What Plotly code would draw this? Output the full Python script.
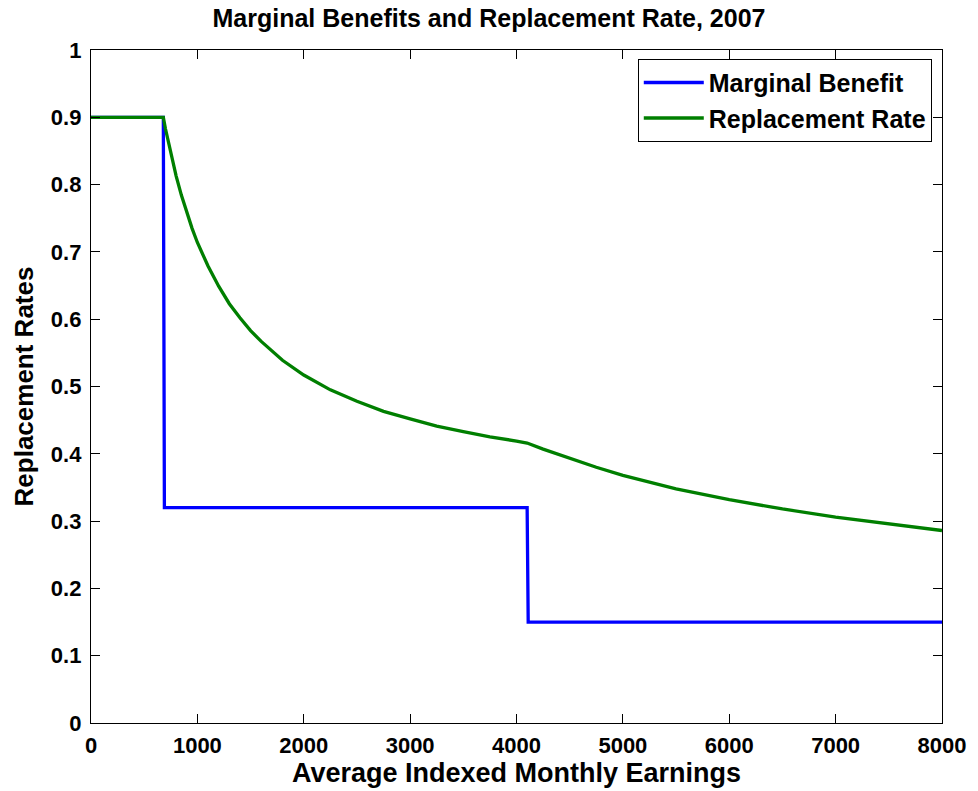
import plotly.graph_objects as go

# Marginal benefit (step function, bend points 680 and 4100)
mb_x = [0, 680, 690, 4100, 4110, 8000]
mb_y = [0.9, 0.9, 0.32, 0.32, 0.15, 0.15]

# Replacement rate
rr_x = [0, 680, 700, 750, 800, 850, 900, 950, 1000, 1100, 1200, 1300, 1400, 1500,
        1600, 1800, 2000, 2250, 2500, 2750, 3000, 3250, 3500, 3750, 4000, 4100,
        4250, 4500, 4750, 5000, 5500, 6000, 6500, 7000, 7500, 8000]
rr_y = [0.9, 0.9, 0.883, 0.846, 0.813, 0.784, 0.758, 0.735, 0.714, 0.679, 0.649,
        0.623, 0.602, 0.583, 0.567, 0.539, 0.517, 0.495, 0.478, 0.463, 0.452,
        0.441, 0.433, 0.425, 0.419, 0.416, 0.407, 0.393, 0.380, 0.368, 0.348,
        0.332, 0.318, 0.306, 0.296, 0.286]

x_ticks = [0, 1000, 2000, 3000, 4000, 5000, 6000, 7000, 8000]
y_ticks = [0, 0.1, 0.2, 0.3, 0.4, 0.5, 0.6, 0.7, 0.8, 0.9, 1]
y_labels = ["0", "0.1", "0.2", "0.3", "0.4", "0.5", "0.6", "0.7", "0.8", "0.9", "1"]

FONT = "Liberation Sans, Arial, sans-serif"

fig = go.Figure()
fig.add_trace(go.Scatter(x=mb_x, y=mb_y, mode="lines", name="Marginal Benefit",
                         line=dict(color="#0000ff", width=3.3)))
fig.add_trace(go.Scatter(x=rr_x, y=rr_y, mode="lines", name="Replacement Rate",
                         line=dict(color="#007f00", width=3.3)))

axis_common = dict(showgrid=False, zeroline=False, showline=True, linecolor="black",
                   linewidth=1.3, mirror="ticks", ticks="inside", ticklen=9,
                   tickcolor="black", tickwidth=1,
                   tickfont=dict(family=FONT, size=22, color="black", weight="bold"))

fig.update_layout(
    width=978, height=791,
    margin=dict(l=91, r=32, t=50, b=66),
    paper_bgcolor="white", plot_bgcolor="white",
    title=dict(text="<b>Marginal Benefits and Replacement Rate, 2007</b>",
               x=0.5, xanchor="center", yref="container", y=0.977, yanchor="middle",
               font=dict(family=FONT, size=25, color="black")),
    xaxis=dict(range=[0, 8000], tickvals=x_ticks, ticktext=[str(v) for v in x_ticks],
               ticklabelstandoff=2,
               title=dict(text="<b>Average Indexed Monthly Earnings</b>",
                          font=dict(family=FONT, size=27, color="black"), standoff=3),
               **axis_common),
    yaxis=dict(range=[0, 1], tickvals=y_ticks, ticktext=y_labels,
               ticklabelstandoff=4,
               title=dict(text="<b>Replacement Rates</b>",
                          font=dict(family=FONT, size=26, color="black"), standoff=9),
               **axis_common),
    legend=dict(x=0.988, y=0.987, xanchor="right", yanchor="top",
                bgcolor="white", bordercolor="black", borderwidth=1,
                itemwidth=60,
                font=dict(family=FONT, size=25, color="black", weight="bold"),
                tracegroupgap=0),
    showlegend=True,
)

fig.write_html("out.html", config={"displayModeBar": False},
               post_script="document.body.style.margin='0';document.body.style.overflow='hidden';")
